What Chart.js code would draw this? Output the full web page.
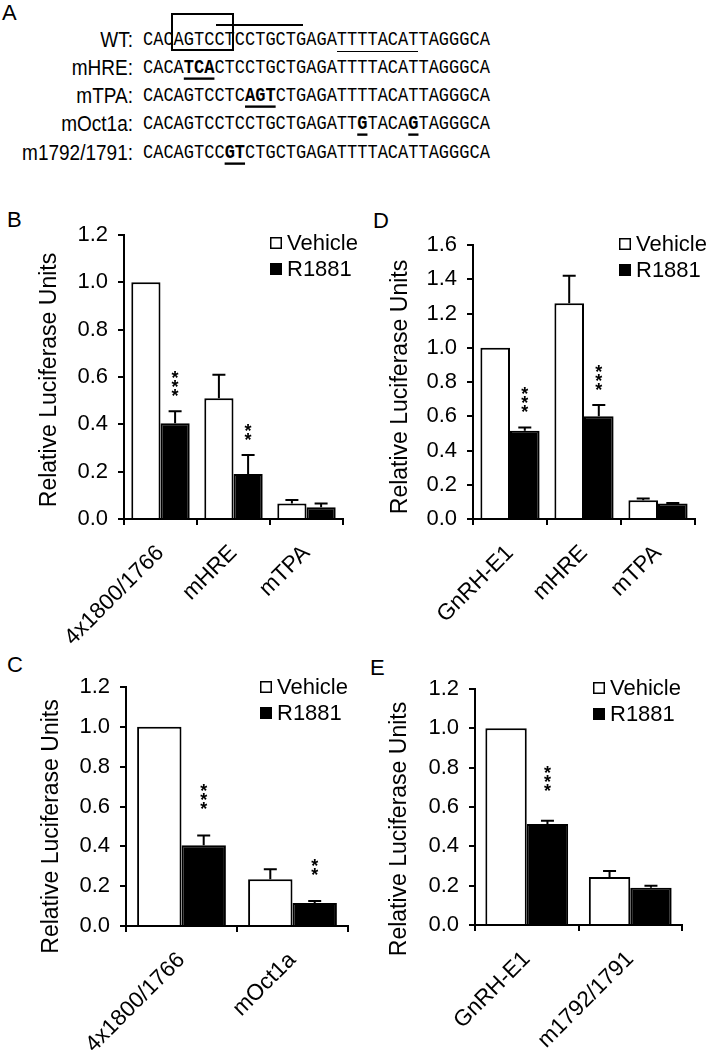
<!DOCTYPE html>
<html>
<head>
<meta charset="utf-8">
<script src="https://cdn.jsdelivr.net/npm/chart.js@4"></script>
<style>
  body { margin: 0; background: #fff; }
  #page { position: relative; width: 713px; height: 1050px; overflow: hidden; font-family: 'Liberation Sans', Arial, sans-serif; color: #000; }
  .letter { position: absolute; font-size: 22px; line-height: 22px; }
  .name { position: absolute; left: 0; width: 133px; text-align: right; font-size: 19px; line-height: 28px; transform: scaleY(1.12); transform-origin: 50% 50%; }
  .seq { position: absolute; left: 143px; font-family: 'Liberation Mono', 'Courier New', monospace; font-size: 17px; line-height: 28px; white-space: pre; transform: scaleY(1.18); transform-origin: 50% 50%; }
  .mut { font-weight: bold; text-decoration: underline; text-decoration-thickness: 2px; text-underline-offset: 4px; }
  .deco { position: absolute; border: 0 solid #000; }
  canvas { position: absolute; }
</style>
</head>
<body>
<div id="page">
  <div class="letter" style="left:2px;top:2px">A</div>
  <div class="letter" style="left:7px;top:209px">B</div>
  <div class="letter" style="left:373px;top:210px">D</div>
  <div class="letter" style="left:7px;top:654px">C</div>
  <div class="letter" style="left:370px;top:657px">E</div>
  <div id="panelA"></div>
  <div class="deco" style="left:171px;top:13px;width:59px;height:34px;border-width:2px"></div>
  <div class="deco" style="left:216px;top:24px;width:87px;height:0;border-top-width:2px"></div>
  <div class="deco" style="left:337px;top:51px;width:81px;height:0;border-top-width:1px"></div>
  <canvas id="chartB" width="360" height="465" style="left:0;top:190px"></canvas>
  <canvas id="chartD" width="353" height="465" style="left:360px;top:190px"></canvas>
  <canvas id="chartC" width="360" height="395" style="left:0;top:655px"></canvas>
  <canvas id="chartE" width="353" height="395" style="left:360px;top:655px"></canvas>
</div>
<script>
// panel A: lowercase letters = mutated bases (bold, underlined)
const seqNames = ['WT:', 'mHRE:', 'mTPA:', 'mOct1a:', 'm1792/1791:'];
const seqTexts = [
  'CACAGTCCTCCTGCTGAGATTTTACATTAGGGCA',
  'CACAtcaCTCCTGCTGAGATTTTACATTAGGGCA',
  'CACAGTCCTCagtCTGAGATTTTACATTAGGGCA',
  'CACAGTCCTCCTGCTGAGATTgTACAgTAGGGCA',
  'CACAGTCCgtCTGCTGAGATTTTACATTAGGGCA'
];

// panel B
const bCategories = ['4x1800/1766', 'mHRE', 'mTPA'];
const bVehicle = [1.0, 0.51, 0.065];
const bVehicleErr = [0, 0.10, 0.015];
const bR1881 = [0.405, 0.19, 0.05];
const bR1881Err = [0.05, 0.08, 0.015];
const bStars = ['***', '**', ''];

// panel D
const dCategories = ['GnRH-E1', 'mHRE', 'mTPA'];
const dVehicle = [1.0, 1.26, 0.11];
const dVehicleErr = [0, 0.16, 0.01];
const dR1881 = [0.515, 0.60, 0.09];
const dR1881Err = [0.02, 0.065, 0.003];
const dStars = ['***', '***', ''];

// panel C
const cCategories = ['4x1800/1766', 'mOct1a'];
const cVehicle = [1.0, 0.235];
const cVehicleErr = [0, 0.05];
const cR1881 = [0.405, 0.115];
const cR1881Err = [0.05, 0.01];
const cStars = ['***', '**'];

// panel E
const eCategories = ['GnRH-E1', 'm1792/1791'];
const eVehicle = [1.0, 0.244];
const eVehicleErr = [0, 0.031];
const eR1881 = [0.514, 0.19];
const eR1881Err = [0.016, 0.01];
const eStars = ['***', ''];

const seriesNames = ['Vehicle', 'R1881'];
const yTitle = 'Relative Luciferase Units';

// build panel A
const panelA = document.getElementById('panelA');
seqNames.forEach((n, i) => {
  const top = 25.5 + i * 28.25;
  const nm = document.createElement('div');
  nm.className = 'name';
  nm.style.top = top + 'px';
  nm.textContent = n;
  panelA.appendChild(nm);
  const sq = document.createElement('div');
  sq.className = 'seq';
  sq.style.top = top + 'px';
  sq.innerHTML = seqTexts[i].replace(/[a-z]+/g, m => '<span class="mut">' + m.toUpperCase() + '</span>');
  panelA.appendChild(sq);
});

Chart.defaults.font.family = "'Liberation Sans', Arial, sans-serif";
Chart.defaults.color = '#000';

const decor = {
  id: 'decor',
  afterDatasetsDraw(chart, args, opts) {
    const ctx = chart.ctx;
    const ys = chart.scales.y;
    ctx.save();
    ctx.strokeStyle = '#000';
    ctx.fillStyle = '#000';
    ctx.lineWidth = 2;
    chart.data.datasets.forEach((ds, di) => {
      const meta = chart.getDatasetMeta(di);
      meta.data.forEach((bar, i) => {
        const e = ds.errors[i];
        const top = ys.getPixelForValue(ds.data[i] + e);
        if (e) {
          ctx.beginPath();
          ctx.moveTo(bar.x, bar.y);
          ctx.lineTo(bar.x, top);
          ctx.moveTo(bar.x - 6.5, top);
          ctx.lineTo(bar.x + 6.5, top);
          ctx.stroke();
        }
        const s = ds.stars ? ds.stars[i] : '';
        if (s) {
          ctx.font = "bold 18px 'Liberation Sans', Arial";
          ctx.textAlign = 'center';
          ctx.textBaseline = 'alphabetic';
          for (let k = 0; k < s.length; k++) {
            const cy = top - opts.starGap - k * 9;
            ctx.fillText('*', bar.x, cy + 10.5);
          }
        }
      });
    });
    // legend
    ctx.font = "22px 'Liberation Sans', Arial";
    ctx.textAlign = 'left';
    ctx.textBaseline = 'middle';
    ctx.lineWidth = 1.5;
    chart.data.datasets.forEach((ds, di) => {
      const y = opts.legendY + di * 26;
      ctx.fillStyle = ds.backgroundColor;
      ctx.fillRect(opts.legendX, y - 6, 12, 12);
      ctx.strokeRect(opts.legendX + 0.75, y - 5.25, 10.5, 10.5);
      ctx.fillStyle = '#000';
      ctx.fillText(ds.label, opts.legendX + 17, y + 1);
    });
    // y axis title
    const ca = chart.chartArea;
    ctx.translate(ys.left + 14, (ca.top + ca.bottom) / 2 + opts.titleShift);
    ctx.rotate(-Math.PI / 2);
    ctx.font = "23px 'Liberation Sans', Arial";
    ctx.textAlign = 'center';
    ctx.fillText(yTitle, 0, 0);
    ctx.restore();
  }
};

function makePanel(id, cats, veh, vehErr, r18, r18Err, stars, yMax, g) {
  return new Chart(document.getElementById(id), {
    type: 'bar',
    data: {
      labels: cats,
      datasets: [
        { label: seriesNames[0], data: veh, errors: vehErr, backgroundColor: '#fff', borderColor: '#000', borderWidth: 2 },
        { label: seriesNames[1], data: r18, errors: r18Err, stars: stars, backgroundColor: '#000', borderColor: '#000', borderWidth: 2 }
      ]
    },
    options: {
      responsive: false,
      animation: false,
      devicePixelRatio: 1,
      layout: { padding: g.pad },
      datasets: { bar: { categoryPercentage: 0.8, barPercentage: 1.0 } },
      plugins: {
        legend: { display: false },
        tooltip: { enabled: false },
        decor: { legendX: g.legendX, legendY: g.legendY, starGap: g.starGap, titleShift: g.titleShift }
      },
      scales: {
        x: {
          grid: { display: true, offset: true, drawOnChartArea: false, drawTicks: true, tickLength: 6, color: '#000', lineWidth: 2 },
          border: { display: true, color: '#000', width: 2 },
          ticks: { font: { size: 22.5 }, maxRotation: 45, minRotation: 45, padding: 15, autoSkip: false },
          afterFit(s) { s.height = g.xh; }
        },
        y: {
          min: 0,
          max: yMax,
          grid: { display: true, drawOnChartArea: false, drawTicks: true, tickLength: 6, color: '#000', lineWidth: 2 },
          border: { display: true, color: '#000', width: 2 },
          ticks: { stepSize: 0.2, font: { size: 22 }, padding: 10, callback: v => v.toFixed(1) },
          afterFit(s) { s.width = g.yw; }
        }
      }
    },
    plugins: [decor]
  });
}

makePanel('chartB', bCategories, bVehicle, bVehicleErr, bR1881, bR1881Err, bStars, 1.2,
  { pad: { left: 36, top: 45, right: 17, bottom: 0 }, yw: 88, xh: 136, legendX: 270, legendY: 53, starGap: 20, titleShift: 3 });
makePanel('chartD', dCategories, dVehicle, dVehicleErr, dR1881, dR1881Err, dStars, 1.6,
  { pad: { left: 27, top: 55, right: 18, bottom: 0 }, yw: 86, xh: 136, legendX: 259, legendY: 54, starGap: 20, titleShift: 5 });
makePanel('chartC', cCategories, cVehicle, cVehicleErr, cR1881, cR1881Err, cStars, 1.2,
  { pad: { left: 38, top: 32, right: 12, bottom: 0 }, yw: 88, xh: 124, legendX: 260, legendY: 32, starGap: 31, titleShift: 20 });
makePanel('chartE', eCategories, eVehicle, eVehicleErr, eR1881, eR1881Err, eStars, 1.2,
  { pad: { left: 26, top: 34, right: 31, bottom: 0 }, yw: 89, xh: 125, legendX: 233, legendY: 33, starGap: 34, titleShift: 22 });
</script>
</body>
</html>
